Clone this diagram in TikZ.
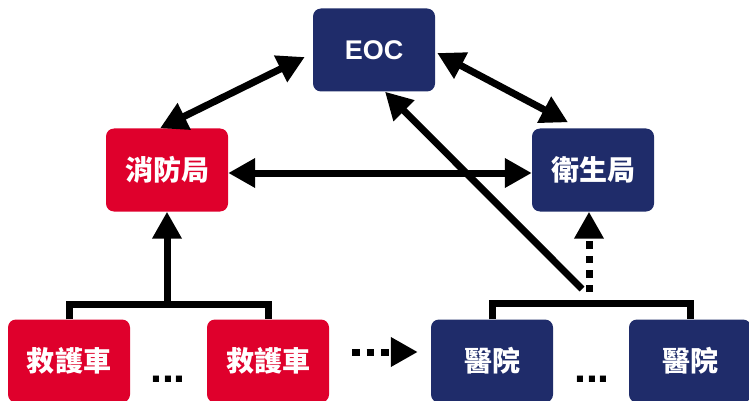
\documentclass[tikz,border=0pt]{standalone}
\usepackage{fontspec}
\setmainfont{Liberation Sans}
\newfontfamily\cjk{Noto Sans CJK TC}
\usetikzlibrary{arrows.meta}
\definecolor{FireRed}{RGB}{223,0,44}
\definecolor{CityBlue}{RGB}{31,44,106}
\tikzset{
	Head/.tip={Triangle[length=27pt,width=28pt]},
	unit/.style={rounded corners=8pt,minimum width=122pt,minimum height=83pt,inner sep=0pt,text=white,font=\cjk\bfseries\fontsize{28}{30}\selectfont},
	fire/.style={unit,fill=FireRed},
	city/.style={unit,fill=CityBlue},
	link/.style={line width=7pt,-{Head}},
	pipe/.style={line width=7pt,line join=miter},
	broken/.style={dash pattern=on 7.5pt off 7pt},
	dots/.style={inner sep=0pt,font=\bfseries\fontsize{43}{43}\selectfont}
}

\begin{document}
\begin{tikzpicture}[x=1pt,y=-1pt]
	\clip (0,0) rectangle (749,401);

	\node[city,font=\bfseries\fontsize{27}{30}\selectfont] (EOC) at (374,50) {EOC};
	\node[fire] (FireDept) at (167,170) {消防局};
	\node[city] (HealthBureau) at (593,170) {衛生局};

	\node[fire] (AmbulanceA) at (69,361) {救護車};
	\node[fire] (AmbulanceB) at (268,361) {救護車};
	\node[city] (HospitalA) at (492,361) {醫院};
	\node[city] (HospitalB) at (690,361) {醫院};

	\node[dots] (DotsA) at (168,379) {...};
	\node[dots] (DotsB) at (592,379) {...};

	\coordinate (AmbBar) at (167,304);
	\coordinate (HospBar) at (589,303);
	\coordinate (HospStub) at (589,292);
	\coordinate (HospDiag) at (582,289);

	% top triangle
	\draw[link,{Head}-{Head}] ([xshift=-7pt]FireDept.north) to ([xshift=-8pt,yshift=-7pt]EOC.west);
	\draw[link,{Head}-{Head}] ([xshift=2pt,yshift=-3pt]EOC.east) to ([xshift=-25pt,yshift=6pt]HealthBureau.north);
	\draw[link,{Head}-{Head}] ([yshift=-3pt]FireDept.east) to ([yshift=-3pt]HealthBureau.west);

	% ambulances
	\draw[pipe] (AmbulanceA.north) |- (AmbBar) -| (AmbulanceB.north);
	\draw[link] (AmbBar) to (FireDept.south);

	% hospitals
	\draw[pipe] (HospitalA.north) |- (HospBar) -| (HospitalB.north);
	\draw[link,broken] (HospStub) to (HospStub |- HealthBureau.south);
	\draw[link] (HospDiag) to ([xshift=11pt]EOC.south);

	\draw[link,broken] ([xshift=23pt,yshift=9pt]AmbulanceB.east) to ([xshift=-13pt,yshift=9pt]HospitalA.west);
\end{tikzpicture}
\end{document}
